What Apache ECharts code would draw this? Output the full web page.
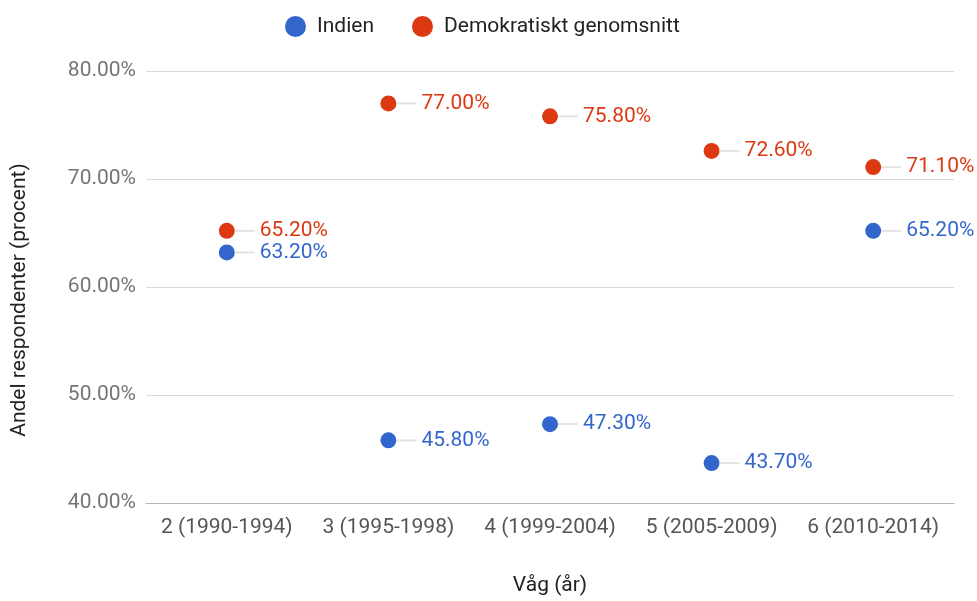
<!DOCTYPE html>
<html>
<head>
<meta charset="utf-8">
<script src="https://cdn.jsdelivr.net/npm/echarts@6/dist/echarts.min.js"></script>
<style>
  html, body { margin: 0; padding: 0; background: #fff; }
  #chart { width: 977px; height: 601px; }
</style>
</head>
<body>
<div id="chart"></div>
<script>
// waves on the x axis
const categories = ['2 (1990-1994)', '3 (1995-1998)', '4 (1999-2004)', '5 (2005-2009)', '6 (2010-2014)'];
// share of respondents, percent
const indien = [63.2, 45.8, 47.3, 43.7, 65.2];
const demokratiskt = [65.2, 77.0, 75.8, 72.6, 71.1];

const BLUE = '#3366cc';
const RED = '#dc3912';

function makeLabel(color) {
    return {
        show: true,
        position: 'right',
        distance: 0,
        fontFamily: 'Roboto',
        formatter: function (p) {
            return '{line|}{val|' + p.value.toFixed(2) + '%}';
        },
        rich: {
            line: {
                width: 20,
                height: 2,
                backgroundColor: '#e3e3e3'
            },
            val: {
                color: color,
                fontSize: 21,
                fontFamily: 'Roboto',
                padding: [0, 0, 0, 5]
            }
        }
    };
}

const chart = echarts.init(document.getElementById('chart'));

const option = {
    backgroundColor: '#fff',
    textStyle: { fontFamily: 'Roboto' },
    legend: {
        top: 11,
        left: 280,
        itemWidth: 21,
        itemHeight: 21,
        itemGap: 38,
        icon: 'circle',
        textStyle: { fontSize: 21, color: '#222', fontFamily: 'Roboto', padding: [0, 0, 0, 6] },
        data: ['Indien', 'Demokratiskt genomsnitt']
    },
    grid: {
        left: 146,
        right: 23,
        top: 71,
        bottom: 96
    },
    xAxis: {
        type: 'category',
        data: categories,
        name: 'Våg (år)',
        nameLocation: 'middle',
        nameGap: 72,
        nameTextStyle: { fontSize: 21, color: '#222' },
        axisLine: { lineStyle: { color: '#b5b5b5' } },
        axisTick: { show: false },
        axisLabel: { fontSize: 21, color: '#555', margin: 14, interval: 0 }
    },
    yAxis: {
        type: 'value',
        min: 40,
        max: 80,
        interval: 10,
        name: 'Andel respondenter (procent)',
        nameLocation: 'middle',
        nameGap: 116,
        nameTextStyle: { fontSize: 21, color: '#222', padding: [0, 26, 0, 0] },
        axisLine: { show: false },
        axisTick: { show: false },
        splitLine: { lineStyle: { color: '#d9d9d9' } },
        axisLabel: {
            fontSize: 21,
            color: '#757575',
            margin: 10,
            formatter: function (v) { return v.toFixed(2) + '%'; }
        }
    },
    series: [
        {
            name: 'Indien',
            type: 'scatter',
            data: indien,
            symbolSize: 16,
            itemStyle: { color: BLUE, opacity: 1 },
            label: makeLabel(BLUE)
        },
        {
            name: 'Demokratiskt genomsnitt',
            type: 'scatter',
            data: demokratiskt,
            symbolSize: 16,
            itemStyle: { color: RED, opacity: 1 },
            label: makeLabel(RED)
        }
    ]
};

chart.setOption(option);
</script>
</body>
</html>
